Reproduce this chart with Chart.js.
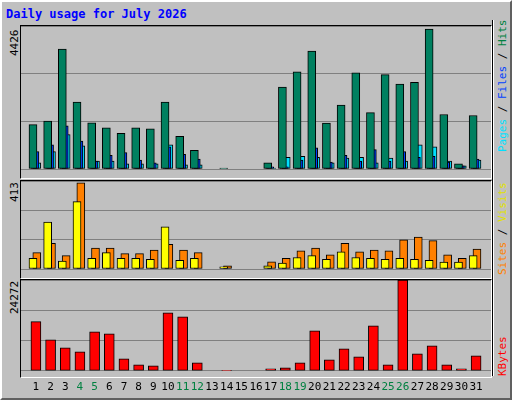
<!DOCTYPE html>
<html>
<head>
<meta charset="utf-8">
<script src="https://cdn.jsdelivr.net/npm/chart.js@4"></script>
<style>
  body { margin: 0; background: #fff; }
  #page { position: absolute; left: 0; top: 0; width: 508px; height: 396px; background: #c0c0c0;
          border-top: 2px solid #fff; border-left: 2px solid #fff; border-right: 2px solid #606060; border-bottom: 2px solid #606060; }
  .abs { position: absolute; }
  .frame { position: absolute; border-top: 1px solid #000; border-left: 1px solid #000; border-right: 1px solid #fff; border-bottom: 1px solid #fff; }
  .txt { font-family: "DejaVu Sans Mono", monospace; font-size: 11px; white-space: nowrap; }
  .rot { position: absolute; transform-origin: left top; transform: rotate(-90deg); }
</style>
</head>
<body>
<div id="page"></div>
<div class="abs txt" style="left:6px;top:7px;color:#0000ff;font-weight:bold;font-size:12px">Daily usage for July 2026</div>

<div class="frame" style="left:20px;top:25px;width:470px;height:152px"></div>
<div class="frame" style="left:20px;top:180px;width:470px;height:97px"></div>
<div class="frame" style="left:20px;top:279px;width:470px;height:97px"></div>
<div class="abs" style="left:492px;top:20px;width:1px;height:356px;background:#000"></div>
<div class="abs" style="left:493px;top:20px;width:1px;height:356px;background:#fff"></div>

<div class="abs" style="left:21px;top:26px;width:470px;height:151px"><canvas id="c1"></canvas></div>
<div class="abs" style="left:21px;top:181px;width:470px;height:96px"><canvas id="c2"></canvas></div>
<div class="abs" style="left:21px;top:280px;width:470px;height:116px"><canvas id="c3"></canvas></div>

<div class="rot txt" style="left:8px;top:56px">4426</div>
<div class="rot txt" style="left:8px;top:202px">413</div>
<div class="rot txt" style="left:8px;top:314px">24272</div>

<div class="rot txt" style="left:496px;top:152px"><span style="color:#00e0ff">Pages</span> / <span style="color:#0040ff">Files</span> / <span style="color:#008040">Hits</span></div>
<div class="rot txt" style="left:496px;top:275px"><span style="color:#ff8000">Sites</span> / <span style="color:#e0e000">Visits</span></div>
<div class="rot txt" style="left:496px;top:376px"><span style="color:#ff0000">KBytes</span></div>

<script>
const days = ["1","2","3","4","5","6","7","8","9","10","11","12","13","14","15","16","17","18","19","20","21","22","23","24","25","26","27","28","29","30","31"];
const weekendDays = ["4","5","11","12","18","19","25","26"];

const hits  = [1372,1480,3713,2068,1430,1275,1107,1275,1245,2068,1010,578,0,30,0,0,188,2537,3007,3653,1421,1979,2978,1744,2919,2625,2684,4330,1686,160,1656];
const files = [540,746,1333,863,247,423,511,276,188,687,452,305,0,0,0,0,70,70,276,658,217,423,247,599,247,540,364,394,217,100,305];
const pages = [188,540,1069,717,247,247,160,160,160,746,130,130,0,0,0,0,30,364,394,364,188,335,364,188,335,247,746,687,247,100,276];

const sites  = [50,220,37,316,50,77,50,50,45,198,41,50,0,10,0,0,15,28,54,63,45,80,54,50,45,50,45,41,32,32,63];
const visits = [77,121,63,404,98,98,72,72,89,116,89,77,0,15,0,0,34,50,85,98,67,121,80,89,85,137,150,133,67,50,93];

const kbytes = [13150,8270,6135,5070,10400,9870,3200,1600,1330,15470,14400,2130,0,100,0,0,530,800,2130,10670,2930,5870,3730,12000,1600,24272,4530,6670,1600,530,4000];

const maxHits = 4426, maxVisits = 413, maxKbytes = 24272;

// each series is nudged a little inside its day slot so the bars overlap like the original
function pts(values, shift) {
  return values.map((v, i) => ({ x: i + 1 + shift, y: v }));
}

function yAxis(max) {
  return {
    min: 0, max: max,
    ticks: { display: false, stepSize: max / 3 },
    grid: { color: '#808080', drawTicks: false, lineWidth: 1 },
    border: { display: false }
  };
}

function xAxis(show) {
  return {
    type: 'linear', min: 0.5, max: 31.5,
    grid: { display: false },
    border: { display: false },
    afterBuildTicks: (ax) => { ax.ticks = days.map((d, i) => ({ value: i + 1 })); },
    ticks: show ? {
      autoSkip: false, maxRotation: 0, padding: 2,
      font: { family: 'DejaVu Sans Mono', size: 11 },
      callback: (v) => days[v - 1],
      color: (c) => weekendDays.includes(days[c.tick.value - 1]) ? '#008040' : '#000'
    } : { display: false }
  };
}

function bar(values, shift, color, w) {
  return { data: pts(values, shift), backgroundColor: color, borderColor: '#000', borderWidth: 1,
           borderSkipped: false, barThickness: w, grouped: false };
}

const common = {
  responsive: true, maintainAspectRatio: false, animation: false,
  layout: { padding: 0 },
  plugins: { legend: { display: false }, tooltip: { enabled: false } }
};

new Chart(document.getElementById('c1'), {
  type: 'bar',
  data: { datasets: [
    bar(hits, -0.2, '#008060', 8), bar(files, -0.07, '#0040ff', 8), bar(pages, 0.06, '#00e0ff', 8)
  ]},
  options: { ...common, scales: { x: xAxis(false), y: yAxis(maxHits) } }
});

new Chart(document.getElementById('c2'), {
  type: 'bar',
  data: { datasets: [
    bar(sites, -0.2, '#ffff00', 8), bar(visits, 0.06, '#ff8000', 8)
  ]},
  options: { ...common, scales: { x: xAxis(false), y: yAxis(maxVisits) } }
});

new Chart(document.getElementById('c3'), {
  type: 'bar',
  data: { datasets: [ bar(kbytes, 0, '#ff0000', 10) ] },
  options: { ...common, scales: { x: xAxis(true), y: yAxis(maxKbytes) } }
});
</script>
</body>
</html>
